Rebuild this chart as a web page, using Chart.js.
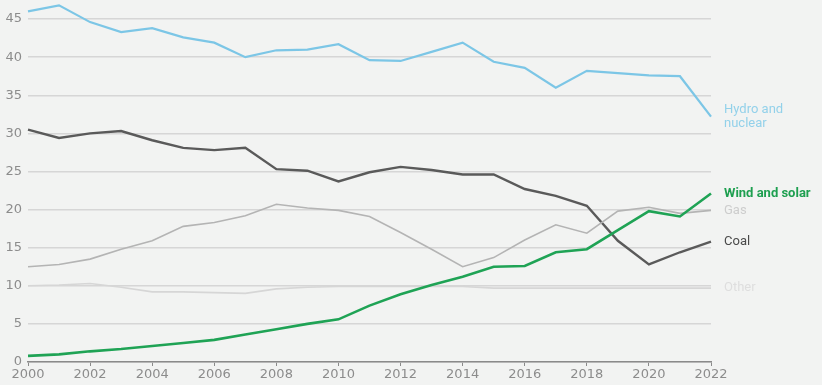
<!DOCTYPE html>
<html>
<head>
<meta charset="utf-8">
<script src="https://cdn.jsdelivr.net/npm/chart.js@4"></script>
<style>
  html, body { margin: 0; padding: 0; background: #f2f3f2; }
  #wrap { width: 822px; height: 385px; position: relative; }
</style>
</head>
<body>
<div id="wrap"><canvas id="myChart"></canvas></div>
<script>
const years = [
  '2000', '2001', '2002', '2003', '2004', '2005', '2006', '2007', '2008', '2009', '2010', '2011',
  '2012', '2013', '2014', '2015', '2016', '2017', '2018', '2019', '2020', '2021', '2022',
];
const hydroNuclear = [46.0, 46.8, 44.6, 43.3, 43.8, 42.6, 41.9, 40.0, 40.9, 41.0, 41.7, 39.6,
  39.5, 40.7, 41.9, 39.4, 38.6, 36.0, 38.2, 37.9, 37.6, 37.5, 32.2];
const coal = [30.5, 29.4, 30.0, 30.3, 29.1, 28.1, 27.8, 28.1, 25.3, 25.1, 23.7, 24.9,
  25.6, 25.2, 24.6, 24.6, 22.7, 21.8, 20.5, 15.9, 12.8, 14.4, 15.8];
const gas = [12.5, 12.8, 13.5, 14.8, 15.9, 17.8, 18.3, 19.2, 20.7, 20.2, 19.9, 19.1,
  17.0, 14.8, 12.5, 13.7, 16.0, 18.0, 16.9, 19.8, 20.3, 19.5, 19.9];
const windSolar = [0.8, 1.0, 1.4, 1.7, 2.1, 2.5, 2.9, 3.6, 4.3, 5.0, 5.6, 7.4,
  8.9, 10.1, 11.2, 12.5, 12.6, 14.4, 14.8, 17.3, 19.8, 19.1, 22.1];
const other = [10.0, 10.1, 10.3, 9.8, 9.2, 9.2, 9.1, 9.0, 9.6, 9.8, 9.9, 9.9,
  9.9, 9.9, 9.9, 9.7, 9.7, 9.7, 9.7, 9.7, 9.7, 9.7, 9.7];
const yTicks = [0, 5, 10, 15, 20, 25, 30, 35, 40, 45];

const seriesLabels = [
  { text: ['Hydro and', 'nuclear'], color: '#93d1ea', font: '13px Roboto' },
  { text: ['Wind and solar'], color: '#1e9f50', font: 'bold 13px Roboto' },
  { text: ['Gas'], color: '#cdcdcd', font: '13px Roboto' },
  { text: ['Coal'], color: '#4a4a4a', font: '13px Roboto' },
  { text: ['Other'], color: '#dedede', font: '13px Roboto' },
];

const bgPlugin = {
  id: 'bg',
  beforeDraw(chart) {
    const ctx = chart.ctx;
    ctx.save();
    ctx.fillStyle = '#f2f3f2';
    ctx.fillRect(0, 0, chart.width, chart.height);
    ctx.restore();
  }
};

const endLabels = {
  id: 'endLabels',
  afterDatasetsDraw(chart) {
    const ctx = chart.ctx;
    const x = chart.chartArea.right + 13;
    chart.data.datasets.forEach((ds, i) => {
      const lab = seriesLabels[i];
      const meta = chart.getDatasetMeta(i);
      const pt = meta.data[meta.data.length - 1];
      ctx.save();
      ctx.font = lab.font;
      ctx.fillStyle = lab.color;
      ctx.textBaseline = 'middle';
      const lh = 14;
      const y0 = pt.y - (lab.text.length - 1) * lh / 2;
      lab.text.forEach((t, j) => ctx.fillText(t, x, y0 + j * lh));
      ctx.restore();
    });
  }
};

const mk = (label, data, color, width) => ({
  label: label,
  data: data,
  borderColor: color,
  backgroundColor: color,
  borderWidth: width,
  pointRadius: 0,
  tension: 0,
  clip: false,
});

const data = {
  labels: years,
  datasets: [
    mk('Hydro and nuclear', hydroNuclear, '#7cc6e6', 2.2),
    mk('Wind and solar', windSolar, '#1fa355', 2.6),
    mk('Gas', gas, '#b4b4b4', 1.6),
    mk('Coal', coal, '#5a5a5a', 2.4),
    mk('Other', other, '#d6d6d6', 1.6),
  ]
};

const config = {
  type: 'line',
  data,
  options: {
    responsive: true,
    maintainAspectRatio: false,
    animation: false,
    layout: { padding: { left: 0, right: 111, top: 0, bottom: 0 } },
    plugins: { legend: { display: false }, tooltip: { enabled: false } },
    scales: {
      x: {
        offset: false,
        afterFit(scale) { scale.height = 23; },
        border: { display: true, color: '#8a8a8a', width: 1.5 },
        grid: {
          drawOnChartArea: false,
          drawTicks: true,
          tickLength: 4,
          color: (c) => (c.index % 2 === 0 ? '#8a8a8a' : 'rgba(0,0,0,0)'),
        },
        ticks: {
          autoSkip: false,
          maxRotation: 0,
          padding: 1,
          color: '#8c8c8c',
          font: { family: 'DejaVu Sans', size: 13 },
          callback: function(v, i) { return i % 2 === 0 ? years[i] : ''; },
        },
      },
      y: {
        min: 0,
        max: 47.5,
        afterFit(scale) {
          scale.width = 28;
          scale.paddingTop = 0;
          scale.paddingBottom = 0;
        },
        afterBuildTicks(scale) { scale.ticks = yTicks.map(v => ({ value: v })); },
        border: { display: false },
        grid: { color: '#d6d6d6', lineWidth: 1.5, drawTicks: false },
        ticks: {
          padding: 6,
          color: '#8c8c8c',
          font: { family: 'DejaVu Sans', size: 13 },
        },
      },
    },
  },
  plugins: [bgPlugin, endLabels],
};

const myChart = new Chart(document.getElementById('myChart'), config);
</script>
</body>
</html>
